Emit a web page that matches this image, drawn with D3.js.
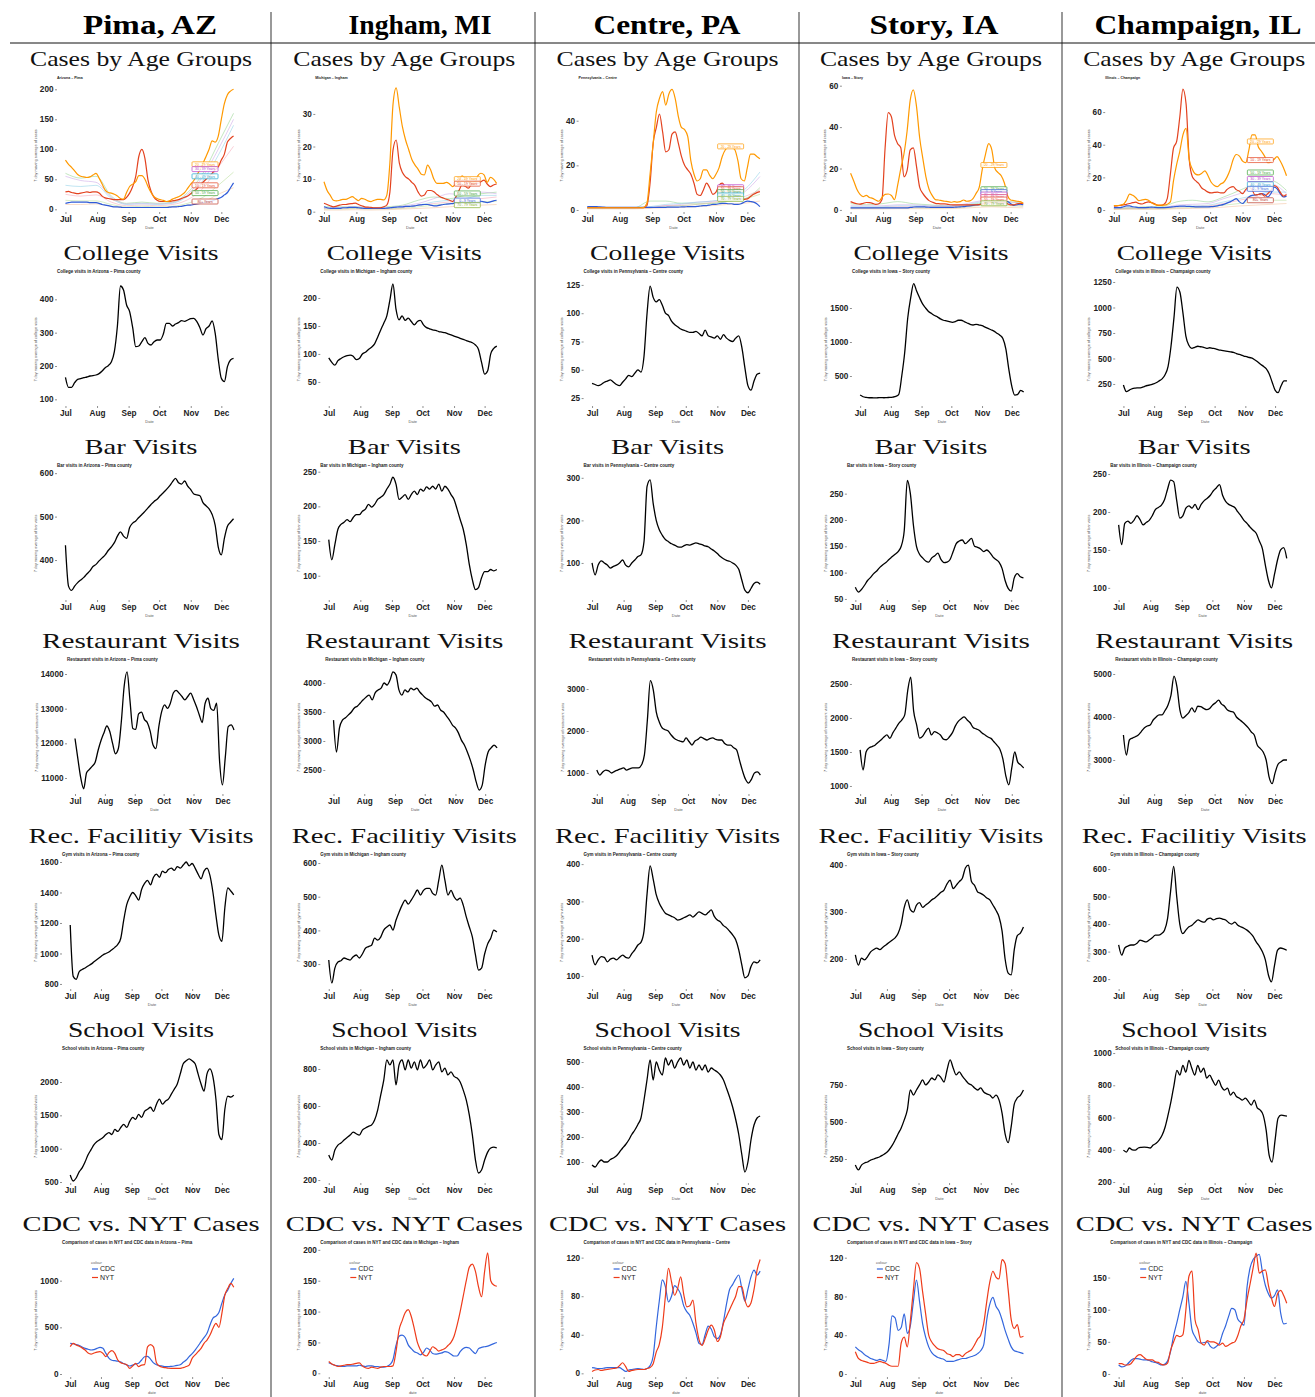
<!DOCTYPE html>
<html><head><meta charset="utf-8">
<script src="https://cdn.jsdelivr.net/npm/d3@7"></script>
<style>body{margin:0;background:#fff}svg{display:block}</style>
</head><body><svg id="c" width="1315" height="1397"></svg>
<script>
// ---------------- DATA ----------------
const counties = ["Pima, AZ","Ingham, MI","Centre, PA","Story, IA","Champaign, IL"];
const stateNames = ["Arizona","Michigan","Pennsylvania","Iowa","Illinois"];
const countyNames = ["Pima","Ingham","Centre","Story","Champaign"];
const rowTitles = ["Cases by Age Groups","College Visits","Bar Visits","Restaurant Visits","Rec. Facilitiy Visits","School Visits","CDC vs. NYT Cases"];
const visitKinds = ["College","Bar","Restaurant","Gym","School"];
const yTitles = ["7 day moving average of cases","7 day moving average of college visits","7 day moving average of bar visits","7 day moving average of restaurant visits","7 day moving average of gym visits","7 day moving average of school visits","7 day moving average of new cases"];
const monthDays = [0,31,62,92,123,153];
const monthLabels = ["Jul","Aug","Sep","Oct","Nov","Dec"];
// day offsets from Jul 1
const days = [0,3,6,9,12,15,18,21,24,27,30,33,36,39,42,45,48,51,54,57,60,63,66,69,72,75,78,81,84,87,90,93,96,99,102,105,108,111,114,117,120,123,126,129,132,135,138,141,144,147,150,153,156,159,162,165];
const coarseDays = [0,15,30,45,60,75,90,105,120,135,150,165];

// ---- cases by age group ----
const pimaOrange = [82,75,70,64,58,55,54,53,54,57,60,52,42,32,28,27,25,22,18,17,28,38,42,46,56,56,50,38,28,21,18,16,15,13,14,17,19,21,24,28,35,42,48,57,66,77,88,100,114,112,122,150,176,191,197,200];
const pimaRed = [29,30,28,27,26,27,28,29,28,29,29,27,22,19,18,17,16,16,16,16,20,27,38,55,88,100,85,49,30,20,15,13,13,13,13,14,15,16,18,20,22,26,30,34,40,45,50,55,60,66,71,82,92,112,118,122];
const pimaBlue = [10,11,12,12,12,12,12,12,11,11,11,10,8,7,6,5,4,4,3.5,3,3,3,3,3,3,3,3,3,3,3,3,3,3,3,3.5,4,4,4.5,5,6,7,7,8,9,10,11,12,13,14,16,18,20,24,28,36,44];
const pimaOthers = [[60,52,55,22,10,12,10,12,28,60,110,160],[55,48,45,20,9,10,9,11,25,55,100,150],[40,38,40,18,8,9,8,10,22,48,90,140],[25,22,24,12,6,7,6,8,16,35,70,105],[15,14,14,8,4,5,4,5,10,20,40,62],[8,8,9,5,3,3,3,4,7,12,25,36]];
const inghamOrange = [9.2,6.5,5,3.5,3.3,3.5,3.8,3.8,4.2,4.6,4,3.4,4.1,3.8,3.3,3.1,3.5,3.8,3.8,3.6,5,15,33,38,32,26,22,19,16,14.3,13,11.5,11.3,14.3,12.8,10,8.7,8.7,8.7,9,8.5,7.7,8.5,9.5,11,10,9.2,9,8.7,11,11.8,11.3,9,10.5,10,8.7];
const inghamRed = [2.6,2.2,1.8,1.5,1.7,2,2.2,2.2,2.4,2.5,2.6,2.2,1.8,1.5,1.4,1.3,1.2,1.2,1.2,1.5,2,6,19,22,15,12,10.7,10,9,8,6,4.8,5.1,6.5,6.5,6.1,5.3,4.6,4.2,3.8,3.5,3.1,4.5,6.5,8.2,7.8,7.2,8.5,9.2,8.7,9.2,9.7,8.5,7.7,8.2,8.5];
const inghamBlue = [1.5,1.2,1,1,1,1,1.2,1.2,1.3,1.3,1.3,1.2,1.1,1,1,1,1,1,1,1,1.1,1.2,1.3,1.4,1.5,1.5,1.6,1.6,1.7,1.8,2,2.1,2.2,2.2,2,1.8,1.8,2,2.2,2.3,2.4,2.5,2.6,2.8,3,3,2.8,2.7,2.8,3,3.2,3,2.8,3,3.3,3.5];
const inghamOthers = [[1.5,1.5,1.5,1.2,1.5,2,3.5,4.5,4,5,5.5,6],[1.2,1.3,1.5,1.2,1.2,1.8,2.5,4,5.5,5,6,5.5],[1,1.2,1.2,1,1.1,1.5,2,3,3.5,4,5,5],[1,1,1.1,1,1,1.2,2,2.5,3,3.5,4,4.5],[0.8,0.8,1,0.8,0.9,1,1.5,2,2.5,3,3,3.2],[0.5,0.5,0.6,0.5,0.6,0.8,1,1.2,1.5,1.8,2,2.2]];
const centreOrange = [1,1,1,1,1,1,1,1,1,1,1,1,1,1,1,1,1,1,1.2,3,16,30,44,50,53,47,52,54,50,42,37,36,33,22,16,13,14,18,18,15.5,14,16,19,24,27,28,28,27,22,14,13,19,25,25,24,23];
const centreRed = [1,1,1,1,1,1,1,1,1,1,1,1,1,1,1,1,1,1,1,2,12,30,37,43,35,26,27,34,35,30,24,20,18,16,12,7,6.5,9,12,10,7,8,11,12,10.5,10,8.5,7,6,5,4.8,5,6,7,7.8,8.2];
const centreBlue = [1.5,1.5,1.5,1.5,1.4,1.3,1.2,1.2,1.2,1.2,1.2,1.2,1.2,1.2,1.2,1.2,1.2,1.2,1.2,1.2,1.2,1.2,1.2,1.2,1.2,1.2,1.3,1.3,1.3,1.3,1.4,1.4,1.5,1.5,1.5,1.6,1.8,2,2,2.2,2.5,2.5,2.8,3,3,2.8,2.8,2.5,2.5,2.8,3.5,4,3.8,3.5,2.8,1.5];
const centreOthers = [[1,1,1,1,4,4,3,3,3,4,5,10],[1,1,1,1,1,2,2.5,3.5,4,5,8,15],[1,1,1,1,1.5,2.5,3,3.5,4,5.5,9,17],[1,1,1,1,1,2,2,2.5,3.5,4.5,6,9],[0.8,0.8,0.8,0.8,1,1.5,2,2.5,3,4,5,7],[0.5,0.5,0.5,0.5,0.8,1,1.2,1.5,2,2.5,3,4]];
const storyOrange = [17.7,14,10,7.5,6.4,7,6,5.6,4.8,4.2,6,7.5,7.7,7,5,12,20,27,38,53,58,50,35,25,16,10,7,5,4.8,4.5,4.2,4,3.7,4,3.8,4,4.8,4.2,4.4,5.5,8,11,20,27,32,29,20,18,16.5,13,7,4.8,4.5,4.2,4,3.2];
const storyRed = [4,3.4,3,2.8,3.2,3.6,3.5,3.2,2.7,3,5,30,47,45,36,32,30,16,19,29,30,21,11,8,6,4.5,3.8,3.2,3,2.9,2.9,2.7,2.5,2.4,2.4,2.4,2.4,2.4,2.4,2.4,2.4,2.6,2.8,3.2,3.5,3.8,4,3.8,3.5,3.5,3,2.4,2.4,3,3.2,3.2];
const storyBlue = [1,1,1,1,1,1,1,1,1,1,1,1,1,1,1,1,1,1,1,1.2,1.4,1.5,1.5,1.5,1.4,1.3,1.2,1.2,1.2,1.2,1.2,1.2,1.2,1.3,1.4,1.5,1.6,1.8,2,2.2,2.4,2.6,3,3.2,3.4,3.5,3.5,3.4,3.2,3.5,4,3,2.2,2.5,2.8,2.6];
const storyOthers = [[3,2.5,3,4,3,2.5,2,2,3,4,4,3],[2,2,2,2.5,2.5,2,2,2.5,4,5,4,3],[1.5,1.5,1.5,2,2,1.8,1.8,2,3.5,4.5,3,2.5],[1,1,1.2,1.5,1.5,1.5,1.5,1.8,2.5,3.5,2.5,2],[0.8,0.8,1,1,1,1,1,1.2,2,2.5,2,1.8],[0.5,0.5,0.5,0.6,0.6,0.6,0.6,0.8,1.2,1.5,1.2,1]];
const champaignOrange = [2.7,2.7,3,3.5,6,9.8,9,7.5,5.7,6.2,6.5,6,4.5,3.5,3,3,3,3.5,5,18,28,36,46,50,31,25,22,21.5,22.5,24,21,17,15,14.3,16,17,20,24.5,31,34,33,30,29,36.7,46,46,38.8,36,33,29,29.5,31,32.7,30,26,21];
const champaignRed = [2.4,2.6,2.8,3.2,3.5,4,4.5,4.8,4,3.7,4.5,5,4.5,3.8,2.9,2.8,3.5,7,22,38,42,57,74,65,31,20.4,18,16.3,13.5,12.2,11,10.5,10.8,11,10.5,10.5,12.5,13.8,14.3,12.5,11.5,10,12.5,14,12.5,9.2,9.5,10,8.5,10,12,15,14,11,8.5,9.5];
const champaignBlue = [1.5,1.5,1.5,2,2.5,2.5,2,1.8,1.5,1.5,1.5,1.6,1.8,1.6,1.5,1.5,1.5,1.6,1.8,2,2.2,2.4,2.4,2.3,2.2,2.1,2,2,2,2,2,2.1,2.3,2.6,3,3.5,4.2,5,6,7,5,4,6,8,9,9.2,9.5,10,9.5,8,10,14,13,10,8,8.5];
const champaignOthers = [[1,1.5,2,2,5,6,5,8,12,16,18,12],[1,1.2,1.5,1.5,3,3.5,4,7,10,14,16,10],[1,1,1.2,1.2,2,2.5,3,5,7,9,11,11],[0.8,1,1,1,1.8,2.2,2.5,4,6,8,10,9],[0.5,0.8,0.8,0.8,1.2,1.5,2,3,4,5,6,6],[0.3,0.5,0.5,0.5,0.8,1,1.2,1.8,2.5,3,3.5,4]];

// age-group labels (name, value where the label sits)
const pimaLabelNames = ["20 - 29 Years","30 - 39 Years","40 - 49 Years","10 - 19 Years","50 - 59 Years","80+ Years"];
const pimaLabelVals = [75,67,55,40,27,13];
const inghamLabelNames = ["20 - 29 Years","10 - 19 Years","50 - 59 Years","0 - 9 Years","70 - 79 Years"];
const inghamLabelVals = [10,8.6,5.6,3.4,2];
const centreLabelNames = ["20 - 29 Years","30 - 39 Years","10 - 19 Years","50 - 59 Years","40 - 49 Years","70 - 79 Years"];
const centreLabelVals = [28.5,10.2,9.3,8,6.5,5];
const storyLabelNames = ["20 - 29 Years","50 - 59 Years","0 - 9 Years","30 - 39 Years","60 - 69 Years","10 - 19 Years","70 - 79 Years"];
const storyLabelVals = [21.7,10,8.6,7.4,6.2,5,3.2];
const champaignLabelNames = ["20 - 29 Years","10 - 19 Years","50 - 59 Years","30 - 39 Years","40 - 49 Years","0 - 9 Years","80+ Years"];
const champaignLabelVals = [42,30.6,23,19,15.7,13,6];
const labelDays = [137,137,137,137,140];

// ---- college visits ----
const pimaCollege = [166,136,136,150,160,162,165,167,170,171,173,177,185,195,201,212,243,320,440,428,383,363,315,258,260,273,285,268,263,273,278,278,295,328,328,320,326,330,336,334,338,342,343,333,315,293,312,320,335,298,220,163,153,198,218,223];
const inghamCollege = [93,85,80,88,92,95,97,98,96,90,92,100,103,108,112,118,130,143,155,168,196,225,180,161,168,160,164,158,152,158,160,152,147,145,143,142,140,139,138,136,134,132,130,128,126,124,122,120,116,108,85,64,70,100,110,114];
const centreCollege = [38,37,36,37,39,40,41,39,37,36,39,42,45,44,47,50,48,62,100,124,114,110,112,107,100,98,93,90,88,86,85,84,83,83,84,82,80,85,80,79,78,80,77,81,78,76,75,78,80,70,52,36,32,40,46,47];
const storyCollege = [220,195,185,180,180,178,180,182,180,183,185,190,200,230,500,850,1350,1650,1860,1750,1650,1560,1500,1450,1420,1390,1370,1340,1320,1310,1300,1290,1300,1320,1320,1300,1280,1260,1250,1260,1250,1240,1220,1200,1180,1160,1130,1100,1050,900,600,350,220,230,290,265];
const champaignCollege = [240,175,190,205,210,212,215,225,235,240,250,262,280,300,340,420,620,900,1200,1150,950,720,630,600,610,620,615,610,600,605,600,595,585,580,575,570,565,560,548,540,530,520,512,505,490,470,445,425,400,350,270,190,165,230,280,280];
// ---- bar visits ----
const pimaBar = [434,340,330,340,348,354,360,368,375,385,390,398,405,412,422,430,440,455,465,455,450,475,485,490,498,505,512,520,528,535,540,548,555,562,570,580,588,578,575,582,570,562,552,550,548,532,525,518,505,480,430,412,450,478,487,495];
const inghamBar = [152,123,145,167,174,177,181,178,184,188,188,193,196,203,199,203,210,213,217,225,232,242,232,210,213,217,210,217,222,217,225,222,228,225,229,225,232,222,229,225,217,210,196,181,167,145,116,94,80,83,97,106,106,109,107,109];
const centreBar = [100,72,95,105,100,95,88,92,95,100,107,95,91,100,107,115,119,150,280,295,240,200,178,165,155,150,145,142,138,137,140,143,142,145,147,145,143,140,138,133,128,122,115,110,106,104,100,95,85,60,36,30,40,52,55,50];
const storyBar = [72,63,68,76,85,91,98,103,110,115,119,125,130,135,140,150,180,275,250,190,150,135,128,122,120,128,132,137,125,119,120,125,140,155,160,162,155,160,165,150,148,145,140,143,138,130,125,120,108,85,70,65,90,98,92,90];
const champaignBar = [183,157,185,188,185,189,195,190,183,186,189,195,203,206,209,216,230,242,240,215,192,195,205,208,205,210,203,210,215,218,222,228,232,236,222,214,210,208,206,200,195,189,185,180,176,172,162,152,130,110,100,118,137,150,153,139];
// ---- restaurant visits ----
const pimaRestaurant = [12140,11550,11000,10690,11150,11250,11340,11460,11800,12080,12300,12500,12350,12000,11700,11850,12600,13640,14060,13255,12430,12400,12850,12900,12690,12600,12350,11950,11850,12480,12920,13110,13010,13160,13450,13530,13450,13350,13255,13350,13450,13275,13060,12820,12600,13150,13300,13000,12950,13160,11500,10800,11610,12480,12530,12385];
const inghamRestaurant = [3360,2810,3225,3360,3400,3450,3500,3570,3600,3655,3710,3760,3790,3710,3830,3880,3910,4000,3965,4050,4190,4140,3880,3790,3880,3845,3910,3880,3910,3845,3790,3740,3710,3670,3600,3620,3535,3500,3430,3360,3275,3225,3140,3015,2930,2810,2670,2500,2290,2155,2240,2585,2810,2880,2930,2880];
const centreRestaurant = [1070,950,1025,1070,1050,1000,1040,1070,1100,1120,1070,1100,1120,1120,1120,1190,1430,2260,3200,2975,2450,2215,2070,2030,2000,1905,1830,1785,1760,1740,1835,1750,1665,1760,1800,1855,1820,1785,1820,1835,1800,1785,1785,1700,1665,1665,1600,1550,1300,1050,850,760,850,1000,1025,950];
const storyRestaurant = [1530,1235,1500,1560,1580,1600,1640,1675,1720,1750,1700,1780,1850,1920,1970,2045,2400,2600,2100,1900,1705,1730,1800,1850,1750,1800,1780,1750,1690,1680,1720,1780,1880,1950,1990,2015,1970,1930,1860,1840,1820,1780,1750,1720,1700,1650,1600,1540,1400,1150,1015,1265,1500,1350,1310,1265];
const champaignRestaurant = [3580,3115,3465,3510,3540,3580,3660,3745,3790,3815,3930,4000,4050,4050,4150,4280,4510,4950,4700,4160,3975,4030,4100,4210,4115,4250,4240,4200,4170,4200,4280,4330,4390,4300,4250,4160,4130,4115,4000,3940,3885,3820,3745,3650,3580,3350,3270,3185,3000,2600,2450,2700,2900,2960,3000,3000];
// ---- gym visits ----
const pimaGym = [1187,850,830,880,895,905,918,930,945,960,975,990,1000,1010,1025,1040,1060,1100,1220,1320,1370,1400,1380,1350,1420,1460,1480,1450,1500,1520,1500,1540,1530,1550,1560,1545,1570,1560,1580,1600,1575,1590,1560,1520,1490,1540,1560,1510,1400,1250,1120,1080,1300,1430,1410,1385];
const inghamGym = [312,244,288,306,310,318,315,312,322,327,318,330,347,352,356,377,371,380,401,410,416,401,430,454,475,490,478,490,505,520,505,519,525,525,510,505,549,594,549,505,519,500,490,496,475,440,410,380,327,282,288,330,360,377,401,395];
const centreGym = [156,130,143,152,150,138,145,148,143,150,156,150,148,160,170,183,190,220,320,395,360,318,295,280,268,264,260,256,250,252,256,260,264,258,265,272,268,264,270,277,260,250,245,235,229,220,210,197,170,130,95,100,125,138,135,143];
const storyGym = [209,187,202,198,205,215,220,223,220,225,230,235,240,245,255,275,310,326,305,300,315,320,310,315,320,326,330,336,342,347,360,368,350,357,365,372,394,400,365,357,343,340,336,330,326,315,304,290,260,200,170,166,220,250,255,268];
const champaignGym = [324,287,313,320,324,324,330,342,338,335,342,350,360,360,365,378,420,520,610,500,400,365,378,390,396,407,415,410,407,418,422,415,420,422,418,415,405,400,407,396,390,385,378,368,355,335,320,300,270,215,190,250,305,313,310,305];
// ---- school visits ----
const pimaSchool = [606,515,560,652,712,803,909,985,1060,1106,1136,1167,1212,1242,1212,1288,1258,1318,1364,1318,1409,1470,1440,1515,1470,1560,1591,1621,1560,1667,1742,1667,1712,1742,1818,1894,1970,2121,2273,2318,2348,2318,2273,2121,1970,1864,2121,2197,2076,1742,1212,1136,1591,1788,1773,1803];
const inghamSchool = [335,308,362,389,400,416,430,443,459,450,443,470,481,490,497,524,578,659,740,849,822,849,714,822,849,795,849,805,838,795,849,805,822,849,795,822,838,784,805,768,784,760,751,730,686,632,551,443,308,238,254,308,351,373,378,373];
const centreSchool = [88,80,96,108,100,100,110,116,125,140,156,170,188,210,228,250,276,348,430,508,428,500,468,448,516,488,508,476,500,516,488,508,476,500,468,488,468,488,460,476,468,460,448,428,395,360,320,270,210,130,60,100,188,248,276,284];
const storySchool = [209,176,209,223,230,243,250,257,265,277,290,311,340,378,420,460,514,581,716,682,716,750,784,750,770,797,784,818,800,770,851,919,865,818,838,810,784,760,750,730,716,730,703,690,682,662,682,649,560,420,360,470,620,662,680,716];
const champaignSchool = [398,386,411,400,398,411,415,417,415,411,429,440,460,490,540,615,700,800,893,863,924,881,955,906,863,924,881,906,844,863,830,800,832,790,770,782,739,757,730,720,708,720,700,677,708,660,646,615,522,367,324,460,596,615,612,609];
// ---- CDC vs NYT new cases ----
const pimaCDC = [329,325,315,305,290,275,265,257,262,275,286,275,221,170,148,143,138,128,112,98,86,95,107,115,150,185,190,160,120,100,90,85,79,79,82,86,92,100,125,150,186,218,257,300,346,390,436,525,600,620,660,760,850,900,970,1025];
const pimaNYT = [293,329,311,298,280,257,225,214,225,235,239,221,186,229,250,221,150,120,110,100,61,86,114,79,96,100,290,315,290,120,85,72,68,62,61,61,61,61,68,80,96,168,204,239,275,329,364,418,490,543,500,650,846,918,971,929];
const inghamCDC = [17,15,13,12,11,11,12,12,12,12,13,12,11,12,12,11,11,10,10,11,14,22,45,60,62,58,46,40,35,33,30,34,41,38,32,31,32,33,35,34,31,28,28,35,40,42,41,36,32,40,42,43,44,46,48,50];
const inghamNYT = [19,15,13,11,12,13,14,14,15,16,17,12,9,8,10,9,8,10,11,11,11,12,35,70,85,98,103,92,72,50,38,30,28,35,43,40,36,38,40,45,50,60,78,100,125,150,172,177,165,140,124,165,195,150,143,141];
const centreCDC = [6,5.5,5,5,5.5,6,6,6,6,6,4,2,3.5,4,4.5,5,4.5,4,5,8,18,48,75,97,90,74,80,91,88,82,70,64,60,52,42,31,30,40,49,46,38,36,40,54,72,87,92,98,102,88,75,87,100,107,102,106];
const centreNYT = [2,3.5,4,3,3.5,4,4.5,5,5.5,8,11,7,2,3,3.5,4,4,4,5,6,10,22,30,48,80,109,95,81,88,100,82,69,70,76,52,35,29,36,45,50,45,33,38,52,59,66,73,80,90,90,76,69,73,87,107,118];
const storyCDC = [28,25,23,20,18,16,15,14,15,14,13,30,60,58,45,48,62,42,50,75,97,75,52,38,28,22,19,17,16,15,13,13,13,14,15,16,16,17,18,19,21,24,30,56,72,79,70,65,56,45,36,28,24,23,22,21];
const storyNYT = [23,16,14,13,12,11,11,12,13,12,11,9,8,8,8,32,38,28,55,87,115,109,85,62,40,33,29,26,25,24,21,20,18,20,20,18,21,23,25,30,36,40,52,75,95,106,100,98,118,114,87,56,47,51,38,39];
const champaignCDC = [14,11,12,16,21,24,24,23,22,22,21,19,18,16,14,15,20,35,60,79,100,120,144,110,69,58,50,48,49,50,43,40,43,48,63,75,90,102,100,85,80,76,135,165,178,183,186,160,138,125,118,122,131,95,78,79];
const champaignNYT = [16,16,14,14,16,22,28,30,27,23,22,22,19,18,15,14,17,37,50,60,58,61,100,152,160,84,69,48,45,52,50,50,48,45,48,43,45,48,50,60,75,85,115,140,165,188,157,160,162,138,118,105,125,130,122,110];

// ---- axis tick values per row (columns: Pima, Ingham, Centre, Story, Champaign) ----
const casesTicks = [[0,50,100,150,200],[0,10,20,30],[0,20,40],[0,20,40,60],[0,20,40,60]];
const collegeTicks = [[100,200,300,400],[50,100,150,200],[25,50,75,100,125],[500,1000,1500],[250,500,750,1000,1250]];
const barTicks = [[400,500,600],[100,150,200,250],[100,200,300],[50,100,150,200,250],[100,150,200,250]];
const restaurantTicks = [[11000,12000,13000,14000],[2500,3000,3500,4000],[1000,2000,3000],[1000,1500,2000,2500],[3000,4000,5000]];
const gymTicks = [[800,1000,1200,1400,1600],[300,400,500,600],[100,200,300,400],[200,300,400],[200,300,400,500,600]];
const schoolTicks = [[500,1000,1500,2000],[200,400,600,800],[100,200,300,400,500],[250,500,750],[200,400,600,800,1000]];
const nytTicks = [[0,500,1000],[0,50,100,150,200],[0,40,80,120],[0,40,80,120],[0,50,100,150]];
// y-scale limits per row
const casesLimits = [[-4.5,210.5],[-0.1,39.5],[-0.9,56.9],[-1,61.3],[-1.2,77.8]];
const collegeLimits = [[80,467],[7,237.5],[18,132],[59,1956],[34,1299]];
const barLimits = [[308,605],[65,251],[13,316],[48,293],[84,254]];
const restaurantLimits = [[10538,14260],[2086,4310],[500,3571],[882,2779],[2209,5209]];
const gymLimits = [[767,1613],[226,609],[65,411],[136,411],[164,633]];
const schoolLimits = [[485,2420],[184,881],[16,532],[88,959],[194,994]];
const nytLimits = [[-32,1350],[-6,203],[-3.8,130],[-3.1,130],[-4.7,196]];

// ---------------- LAYOUT / STYLE ----------------
const SERIF = "'Liberation Serif','Times New Roman',serif";
const SANS = "'Liberation Sans',Arial,sans-serif";
const C_ORANGE = "#FF9900", C_RED = "#E3421F", C_BLUE = "#2F5BD8";
const C_CDC = "#3366DD", C_NYT = "#EE3B1A";
const otherColors = ["#8fd18a","#c9a3e6","#8ccfe6","#f4a3b5","#b4dc94","#f3c09a"];
const ageColor = {"0 - 9 Years":"#2F5BD8","10 - 19 Years":"#E3421F","20 - 29 Years":"#FF9900","30 - 39 Years":"#B93FC9","40 - 49 Years":"#1CA6D0","50 - 59 Years":"#3FA33A","60 - 69 Years":"#E0407A","70 - 79 Years":"#7FAE2A","80+ Years":"#C0392B"};
const rowY = [58,252,446,640,835,1029,1223];
const headerX = [150,420,667,934,1198];
const headerLen = [134,143,147,129,207];
const titleLen = [222,155,113,198,225,146,237];
const xDomain = [-8.3,173.3];

const svg = d3.select("#c");
svg.append("rect").attr("width",1315).attr("height",1397).attr("fill","#fff");

// table rules
[271,535,799,1062].forEach(x=>svg.append("line").attr("x1",x).attr("x2",x).attr("y1",12).attr("y2",1397).attr("stroke","#555").attr("stroke-width",1.2));
svg.append("line").attr("x1",10).attr("x2",1315).attr("y1",43).attr("y2",43).attr("stroke","#111").attr("stroke-width",1);

// headers
counties.forEach((t,c)=>{
  svg.append("text").attr("x",headerX[c]).attr("y",33.5).attr("text-anchor","middle")
    .attr("font-family",SERIF).attr("font-weight","bold").attr("font-size",27)
    .attr("textLength",headerLen[c]).attr("lengthAdjust","spacingAndGlyphs").text(t);
});
// row titles
rowTitles.forEach((t,r)=>{
  for(let c=0;c<5;c++){
    svg.append("text").attr("x",141+c*263.3).attr("y",rowY[r]+8).attr("text-anchor","middle")
      .attr("font-family",SERIF).attr("font-size",21).attr("fill","#111")
      .attr("textLength",titleLen[r]).attr("lengthAdjust","spacingAndGlyphs").text(t);
  }
});

function drawPanel(r,c,p){
  const ox = c*263.3;
  const maxChars = d3.max(p.ticks,t=>String(t).length);
  const left = ox + 42 + maxChars*5, right = ox + 242;
  const top = rowY[r] + 25, bottom = rowY[r] + 154;
  const x = d3.scaleLinear().domain(xDomain).range([left,right]);
  const y = d3.scaleLinear().domain(p.limits).range([bottom,top]);
  const g = svg.append("g");
  // subtitle
  g.append("text").attr("x",left).attr("y",rowY[r]+(r===0?20.5:21)).text(p.subtitle)
    .attr("font-family",SANS).attr("font-weight","bold").attr("font-size",r===0?3.6:4.5).attr("fill","#222");
  // y axis
  const ya = g.append("g").attr("transform",`translate(${left},0)`)
    .call(d3.axisLeft(y).tickValues(p.ticks).tickFormat(d=>String(d)).tickSize(2).tickPadding(1.5));
  ya.select(".domain").remove();
  ya.selectAll("line").attr("stroke","#444").attr("stroke-width",0.6);
  ya.selectAll("text").attr("font-family",SANS).attr("font-weight","bold").attr("font-size",8.2).attr("fill","#222");
  // x axis
  const xa = g.append("g").attr("transform",`translate(0,${bottom})`)
    .call(d3.axisBottom(x).tickValues(monthDays).tickFormat((d,i)=>monthLabels[i]).tickSize(2).tickPadding(2.5));
  xa.select(".domain").remove();
  xa.selectAll("line").attr("stroke","#444").attr("stroke-width",0.6);
  xa.selectAll("text").attr("font-family",SANS).attr("font-weight","bold").attr("font-size",8.2).attr("fill","#222");
  // axis titles
  g.append("text").attr("x",(left+right)/2).attr("y",bottom+17).attr("text-anchor","middle")
    .attr("font-family",SANS).attr("font-size",4).attr("fill","#555").text(r===6?"date":"Date");
  const yt = left - 3.5 - maxChars*4.6 - 3;
  g.append("text").attr("transform",`translate(${yt},${(top+bottom)/2+8}) rotate(-90)`).attr("text-anchor","middle")
    .attr("font-family",SANS).attr("font-size",3.8).attr("fill","#555").text(yTitles[r]);
  // lines
  const line = xs => d3.line().x((d,i)=>x(xs[i])).y(d=>y(d)).curve(d3.curveMonotoneX);
  p.series.forEach(s=>{
    g.append("path").datum(s.values).attr("d",line(s.days)).attr("fill","none")
      .attr("stroke",s.color).attr("stroke-width",s.width).attr("stroke-opacity",s.opacity||1)
      .attr("stroke-linejoin","round");
  });
  // age labels
  if(p.labels){
    p.labels.names.forEach((n,i)=>{
      const cx = x(p.labels.day), cy = y(p.labels.vals[i]);
      g.append("rect").attr("x",cx-13).attr("y",cy-2.5).attr("width",26).attr("height",5).attr("rx",0.8)
        .attr("fill","#fff").attr("fill-opacity",0.85).attr("stroke",ageColor[n]).attr("stroke-width",0.7);
      g.append("text").attr("x",cx).attr("y",cy+1.2).attr("text-anchor","middle").attr("font-family",SANS)
        .attr("font-size",3.4).attr("fill",ageColor[n]).text(n);
    });
  }
  // legend
  if(p.legend){
    const lg = g.append("g").attr("transform",`translate(${left+29},${top})`);
    lg.append("text").attr("x",0).attr("y",15.5).attr("font-family",SANS).attr("font-size",4).attr("font-style","italic").attr("fill","#666").text("colour");
    p.legend.forEach((l,i)=>{
      const yy = 21 + i*8.5;
      lg.append("line").attr("x1",1).attr("x2",7).attr("y1",yy).attr("y2",yy).attr("stroke",l.color).attr("stroke-width",1.2);
      lg.append("text").attr("x",9).attr("y",yy+2.4).attr("font-family",SANS).attr("font-size",7).attr("fill","#222").text(l.name);
    });
  }
}

// ---------------- BUILD PANELS ----------------
const ageData = [
  [pimaOrange,pimaRed,pimaBlue,pimaOthers,pimaLabelNames,pimaLabelVals],
  [inghamOrange,inghamRed,inghamBlue,inghamOthers,inghamLabelNames,inghamLabelVals],
  [centreOrange,centreRed,centreBlue,centreOthers,centreLabelNames,centreLabelVals],
  [storyOrange,storyRed,storyBlue,storyOthers,storyLabelNames,storyLabelVals],
  [champaignOrange,champaignRed,champaignBlue,champaignOthers,champaignLabelNames,champaignLabelVals]
];
const visitData = [
  [pimaCollege,inghamCollege,centreCollege,storyCollege,champaignCollege],
  [pimaBar,inghamBar,centreBar,storyBar,champaignBar],
  [pimaRestaurant,inghamRestaurant,centreRestaurant,storyRestaurant,champaignRestaurant],
  [pimaGym,inghamGym,centreGym,storyGym,champaignGym],
  [pimaSchool,inghamSchool,centreSchool,storySchool,champaignSchool]
];
const visitTicks = [collegeTicks,barTicks,restaurantTicks,gymTicks,schoolTicks];
const visitLimits = [collegeLimits,barLimits,restaurantLimits,gymLimits,schoolLimits];
const cdcData = [pimaCDC,inghamCDC,centreCDC,storyCDC,champaignCDC];
const nytData = [pimaNYT,inghamNYT,centreNYT,storyNYT,champaignNYT];

for(let c=0;c<5;c++){
  const [o,rd,b,others,ln,lv] = ageData[c];
  const series = others.map((v,i)=>({values:v,days:coarseDays,color:otherColors[i],width:0.9,opacity:0.6}));
  series.push({values:b,days:days,color:C_BLUE,width:1.2});
  series.push({values:rd,days:days,color:C_RED,width:1.2});
  series.push({values:o,days:days,color:C_ORANGE,width:1.2});
  drawPanel(0,c,{ticks:casesTicks[c],limits:casesLimits[c],subtitle:`${stateNames[c]} – ${countyNames[c]}`,
    series,labels:{names:ln,vals:lv,day:labelDays[c]}});
  for(let k=0;k<5;k++){
    drawPanel(k+1,c,{ticks:visitTicks[k][c],limits:visitLimits[k][c],
      subtitle:`${visitKinds[k]} visits in ${stateNames[c]} – ${countyNames[c]} county`,
      series:[{values:visitData[k][c],days:days,color:"#000",width:1.3}]});
  }
  drawPanel(6,c,{ticks:nytTicks[c],limits:nytLimits[c],
    subtitle:`Comparison of cases in NYT and CDC data in ${stateNames[c]} – ${countyNames[c]}`,
    series:[{values:cdcData[c],days:days,color:C_CDC,width:1.2},{values:nytData[c],days:days,color:C_NYT,width:1.2}],
    legend:[{name:"CDC",color:C_CDC},{name:"NYT",color:C_NYT}]});
}
</script></body></html>
